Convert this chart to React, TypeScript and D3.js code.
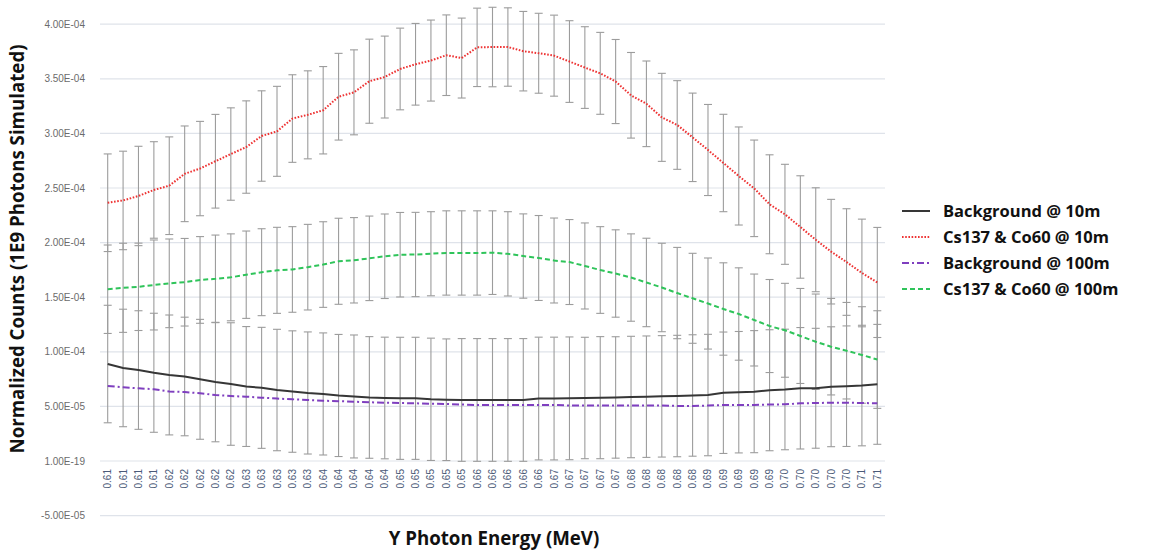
import React from "react";
import * as d3 from "d3";

// Values in units of 1E-04
const CATEGORIES = [
  "0.61","0.61","0.61","0.61",
  "0.62","0.62","0.62","0.62","0.62",
  "0.63","0.63","0.63","0.63","0.63",
  "0.64","0.64","0.64","0.64","0.64",
  "0.65","0.65","0.65","0.65","0.65",
  "0.66","0.66","0.66","0.66","0.66",
  "0.67","0.67","0.67","0.67","0.67",
  "0.68","0.68","0.68","0.68","0.68",
  "0.69","0.69","0.69","0.69","0.69",
  "0.70","0.70","0.70","0.70","0.70",
  "0.71","0.71",
];

const BG_10 = [0.888,0.852,0.833,0.808,0.788,0.774,0.748,0.723,0.705,0.682,0.670,0.650,0.636,0.623,0.614,0.600,0.591,0.582,0.577,0.574,0.574,0.565,0.561,0.559,0.559,0.559,0.559,0.559,0.572,0.572,0.574,0.577,0.580,0.582,0.586,0.589,0.592,0.595,0.600,0.604,0.625,0.630,0.635,0.648,0.655,0.666,0.666,0.680,0.685,0.691,0.702];
const BG_10_ERR = [0.538,0.538,0.543,0.545,0.549,0.543,0.549,0.547,0.561,0.549,0.554,0.556,0.556,0.559,0.559,0.559,0.563,0.557,0.557,0.559,0.559,0.560,0.557,0.562,0.562,0.562,0.562,0.562,0.562,0.562,0.562,0.556,0.559,0.556,0.556,0.556,0.556,0.556,0.556,0.556,0.556,0.556,0.559,0.554,0.552,0.556,0.549,0.549,0.552,0.552,0.549];

const CS_10 = [2.365,2.386,2.427,2.482,2.521,2.630,2.678,2.745,2.811,2.875,2.976,3.019,3.136,3.170,3.212,3.336,3.376,3.478,3.516,3.590,3.633,3.667,3.716,3.690,3.788,3.791,3.791,3.753,3.734,3.712,3.658,3.603,3.550,3.475,3.349,3.271,3.147,3.077,2.964,2.848,2.729,2.610,2.497,2.351,2.259,2.143,2.026,1.917,1.822,1.722,1.635];
const CS_10_ERR = [0.447,0.451,0.455,0.442,0.447,0.438,0.432,0.429,0.423,0.423,0.414,0.412,0.401,0.403,0.400,0.397,0.389,0.385,0.375,0.374,0.374,0.371,0.369,0.366,0.359,0.364,0.359,0.364,0.366,0.371,0.374,0.374,0.375,0.385,0.392,0.392,0.403,0.406,0.405,0.417,0.446,0.449,0.442,0.453,0.458,0.469,0.476,0.479,0.488,0.493,0.504];

const BG_100 = [0.687,0.675,0.666,0.657,0.636,0.632,0.620,0.604,0.595,0.589,0.580,0.572,0.565,0.559,0.552,0.548,0.543,0.538,0.534,0.531,0.528,0.525,0.522,0.517,0.513,0.513,0.513,0.513,0.513,0.513,0.508,0.508,0.508,0.508,0.508,0.508,0.508,0.504,0.504,0.508,0.513,0.513,0.513,0.517,0.519,0.528,0.531,0.534,0.534,0.531,0.528];

const CS_100 = [1.573,1.586,1.595,1.612,1.627,1.637,1.658,1.668,1.682,1.706,1.729,1.746,1.754,1.775,1.799,1.829,1.838,1.856,1.875,1.889,1.891,1.898,1.905,1.905,1.905,1.908,1.897,1.877,1.859,1.836,1.822,1.786,1.749,1.717,1.680,1.635,1.589,1.538,1.490,1.442,1.392,1.346,1.291,1.236,1.197,1.145,1.092,1.047,1.010,0.971,0.929];
const CS_100_ERR = [0.405,0.408,0.400,0.412,0.406,0.401,0.397,0.401,0.398,0.400,0.398,0.394,0.392,0.392,0.392,0.394,0.391,0.387,0.387,0.387,0.386,0.385,0.386,0.386,0.386,0.383,0.386,0.386,0.389,0.389,0.389,0.394,0.397,0.400,0.400,0.405,0.405,0.418,0.412,0.417,0.423,0.423,0.421,0.426,0.430,0.435,0.437,0.442,0.442,0.442,0.447];

const Y_TICKS = [-0.5, 0, 0.5, 1.0, 1.5, 2.0, 2.5, 3.0, 3.5, 4.0];
const Y_TICK_LABELS = ["-5.00E-05","1.00E-19","5.00E-05","1.00E-04","1.50E-04","2.00E-04","2.50E-04","3.00E-04","3.50E-04","4.00E-04"];

const SERIES = [
  { name: "Background @ 10m", values: BG_10, err: BG_10_ERR, color: "#363636", dash: "", width: 2 },
  { name: "Cs137 & Co60 @ 10m", values: CS_10, err: CS_10_ERR, color: "#ee3333", dash: "1.6 1.6", width: 2 },
  { name: "Background @ 100m", values: BG_100, err: null, color: "#7f3fbf", dash: "7 3 2 3", width: 2 },
  { name: "Cs137 & Co60 @ 100m", values: CS_100, err: CS_100_ERR, color: "#2fc45a", dash: "5 3", width: 2 },
];

export default function App() {
  const W = 1157, H = 550;
  const left = 100, right = 885;
  const x = d3.scaleBand<number>().domain(d3.range(CATEGORIES.length)).range([left, right]);
  const cx = (i: number) => (x(i) as number) + x.bandwidth() / 2;
  const y = d3.scaleLinear().domain([-0.5, 4.0]).range([515.6, 24.2]);
  const line = d3.line<number>().x((_, i) => cx(i)).y((d) => y(d));
  const tickFont = "'Liberation Sans Narrow', 'Arial Narrow', 'Liberation Sans', sans-serif";
  const titleFont = "'Open Sans', 'Noto Sans', sans-serif";

  return (
    <svg width={W} height={H} style={{ position: "absolute", left: 0, top: 0, background: "#fff" }}>
      {/* grid */}
      {Y_TICKS.map((t, k) => (
        <g key={"g" + k}>
          <line x1={left} x2={right} y1={y(t)} y2={y(t)} stroke="#dfe3ea" strokeWidth={1.2} />
          <text x={85} y={y(t)} dy="0.35em" textAnchor="end" fontFamily={tickFont} fontSize={10} fill="#6b6b6b">
            {Y_TICK_LABELS[k]}
          </text>
        </g>
      ))}
      {/* x labels */}
      {CATEGORIES.map((c, i) => (
        <text key={"x" + i} transform={`translate(${cx(i) + 3.5},469) rotate(-90)`} textAnchor="end"
          fontFamily={tickFont} fontSize={10} fill="#4a5a78">{c}</text>
      ))}
      {/* error bars */}
      {SERIES.filter((s) => s.err).map((s, si) => (
        <g key={"e" + si}>
          {s.values.map((v, i) => {
            const e = (s.err as number[])[i];
            const x0 = cx(i);
            const y1 = y(v + e), y2 = y(v - e);
            return (
              <g key={i} stroke="#9c9c9c" strokeWidth={1.1}>
                <line x1={x0} x2={x0} y1={y1} y2={y2} />
                <line x1={x0 - 4} x2={x0 + 4} y1={y1} y2={y1} />
                <line x1={x0 - 4} x2={x0 + 4} y1={y2} y2={y2} />
              </g>
            );
          })}
        </g>
      ))}
      {/* lines */}
      {SERIES.map((s, si) => (
        <path key={"l" + si} d={line(s.values) as string} fill="none" stroke={s.color}
          strokeWidth={s.width} strokeDasharray={s.dash || undefined} />
      ))}
      {/* legend */}
      {SERIES.map((s, si) => {
        const ly = 211 + si * 26;
        return (
          <g key={"lg" + si}>
            <line x1={902} x2={930} y1={ly} y2={ly} stroke={s.color} strokeWidth={s.width}
              strokeDasharray={s.dash || undefined} />
            <text x={943} y={ly} dy="0.35em" fontFamily={titleFont} fontWeight="bold" fontSize={16.5} fill="#111">
              {s.name}
            </text>
          </g>
        );
      })}
      {/* axis titles */}
      <text x={494} y={538} dy="0.35em" textAnchor="middle" fontFamily={titleFont} fontWeight="bold" fontSize={18.7} fill="#111">
        Y Photon Energy (MeV)
      </text>
      <text transform="translate(17,249) rotate(-90)" dy="0.35em" textAnchor="middle" fontFamily={titleFont}
        fontWeight="bold" fontSize={18.7} fill="#111">
        Normalized Counts (1E9 Photons Simulated)
      </text>
    </svg>
  );
}
